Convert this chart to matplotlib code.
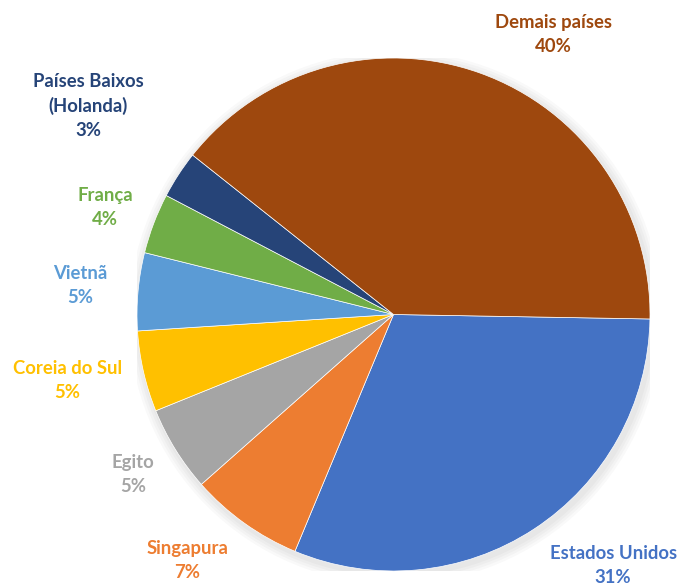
import matplotlib.pyplot as plt

# Dados
paises = ['Estados Unidos', 'Singapura', 'Egito', 'Coreia do Sul', 'Vietnã',
          'França', 'Países Baixos\n(Holanda)', 'Demais países']
percentuais = [31.0, 7.2, 5.4, 5.1, 4.9, 3.8, 3.0, 39.6]

cores = ['#4472C4', '#ED7D31', '#A5A5A5', '#FFC000', '#5B9BD5',
         '#70AD47', '#264478', '#9E480E']

# posição dos rótulos (em unidades do raio, relativo ao centro)
pos_rotulos = [(0.856, -0.979), (-0.805, -0.959), (-1.016, -0.622),
               (-1.272, -0.257), (-1.222, 0.113), (-1.125, 0.417),
               (-1.191, 0.813), (0.622, 1.090)]

fig = plt.figure(figsize=(6.81, 5.86), dpi=100)
ax = fig.add_axes([137 / 681, 15 / 586, 513 / 681, 513 / 586])

# sombra suave
for i in range(4):
    sombra = plt.Circle((0.008, -0.012), 1.0 + 0.01 * (i + 1), color='black',
                        alpha=0.025, lw=0, zorder=0)
    ax.add_patch(sombra)

ax.pie(percentuais, colors=cores, startangle=-1, counterclock=False,
       radius=1, wedgeprops={'edgecolor': 'white', 'linewidth': 0.5})

for nome, pct, cor, (x, y) in zip(paises, percentuais, cores, pos_rotulos):
    ax.text(x, y, f'{nome}\n{round(pct)}%', color=cor, fontsize=13.3,
            fontweight='bold', family='Lato', ha='center', va='center',
            linespacing=1.5, clip_on=False)

ax.set_xlim(-1, 1)
ax.set_ylim(-1, 1)
ax.set_aspect('equal')
ax.axis('off')

fig.savefig('out.png', dpi=100)
